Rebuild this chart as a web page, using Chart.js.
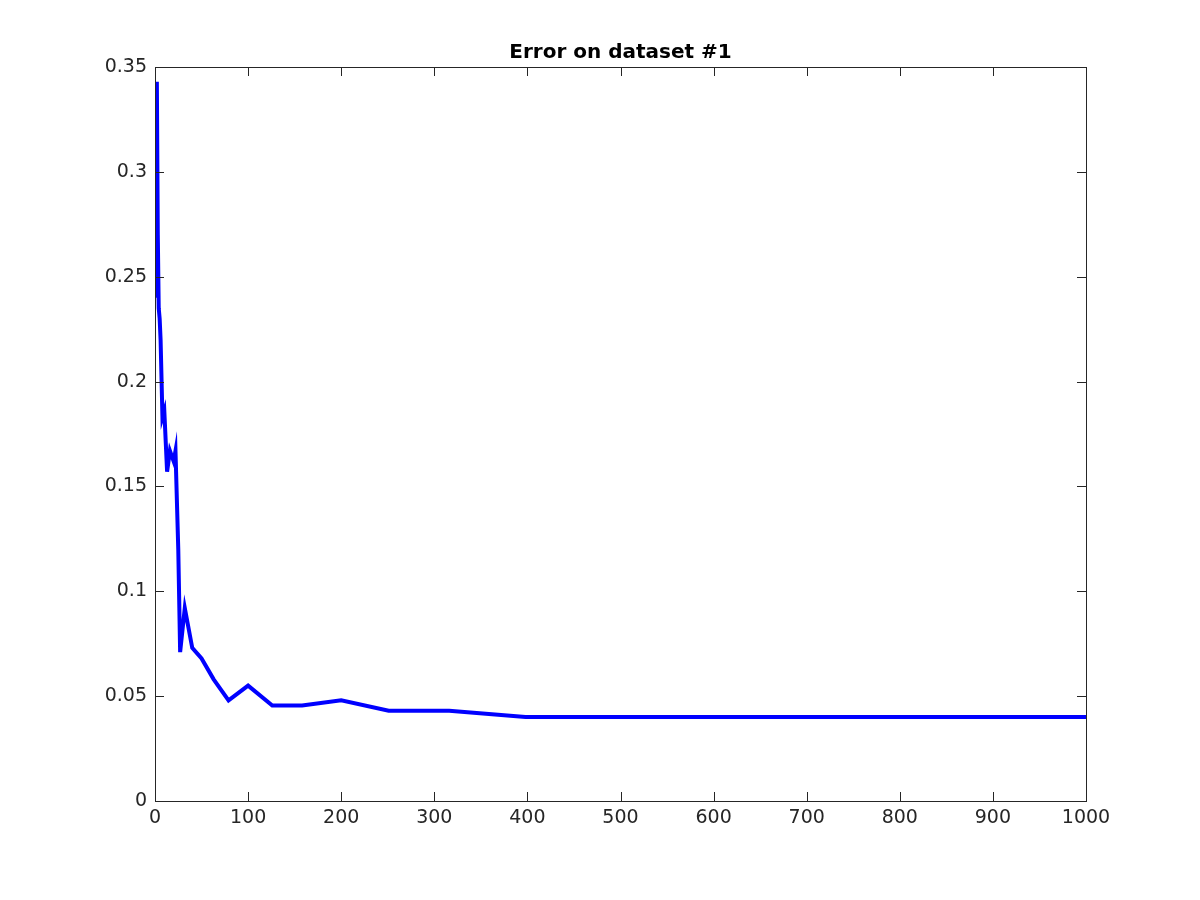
<!DOCTYPE html>
<html>
<head>
<meta charset="utf-8">
<script src="https://cdn.jsdelivr.net/npm/chart.js@4/dist/chart.umd.min.js"></script>
<style>
  body { margin: 0; background: #fff; }
  #wrap { width: 1200px; height: 900px; }
</style>
</head>
<body>
<div id="wrap"><canvas id="chart"></canvas></div>
<script>
const xValues = [1, 2, 3, 4, 5, 6, 8, 10, 13, 16, 20, 22, 25, 27, 32, 40, 50, 63, 79, 100, 126, 158, 200, 251, 316, 398, 501, 631, 794, 1000];
const errValues = [0.24, 0.343, 0.27, 0.235, 0.23, 0.22, 0.183, 0.186, 0.157, 0.167, 0.162, 0.167, 0.12, 0.071, 0.092, 0.073, 0.068, 0.058, 0.048, 0.055, 0.0455, 0.0455, 0.048, 0.043, 0.043, 0.040, 0.040, 0.040, 0.040, 0.040];
const xTicks = [0, 100, 200, 300, 400, 500, 600, 700, 800, 900, 1000];
const yTicks = [0, 0.05, 0.1, 0.15, 0.2, 0.25, 0.3, 0.35];
const titleText = 'Error on dataset #1';

const FONT = "'DejaVu Sans', sans-serif";

// box frame, inward ticks and title, MATLAB style
const framePlugin = {
    id: 'frame',
    afterDraw(chart) {
        const { ctx, chartArea: a, scales } = chart;
        ctx.save();
        ctx.strokeStyle = '#262626';
        ctx.lineWidth = 1;
        ctx.strokeRect(a.left + 0.5, a.top + 0.5, a.right - a.left, a.bottom - a.top);
        ctx.beginPath();
        xTicks.forEach(v => {
            const x = Math.round(scales.x.getPixelForValue(v)) + 0.5;
            ctx.moveTo(x, a.bottom); ctx.lineTo(x, a.bottom - 9);
            ctx.moveTo(x, a.top); ctx.lineTo(x, a.top + 9);
        });
        yTicks.forEach(v => {
            const y = Math.round(scales.y.getPixelForValue(v)) + 0.5;
            ctx.moveTo(a.left, y); ctx.lineTo(a.left + 9, y);
            ctx.moveTo(a.right, y); ctx.lineTo(a.right - 9, y);
        });
        ctx.stroke();
        ctx.fillStyle = '#000';
        ctx.font = 'bold 20px ' + FONT;
        ctx.textAlign = 'center';
        ctx.textBaseline = 'bottom';
        ctx.fillText(titleText, (a.left + a.right) / 2, a.top - 4);
        ctx.restore();
    }
};

new Chart(document.getElementById('chart'), {
    type: 'line',
    data: {
        datasets: [{
            data: xValues.map((x, i) => ({ x, y: errValues[i] })),
            borderColor: '#0000ff',
            borderWidth: 4,
            pointRadius: 0,
            tension: 0,
            fill: false
        }]
    },
    options: {
        responsive: true,
        maintainAspectRatio: false,
        animation: false,
        layout: { padding: { top: 67, right: 114, left: 0, bottom: 0 } },
        plugins: { legend: { display: false }, tooltip: { enabled: false } },
        scales: {
            x: {
                type: 'linear', min: 0, max: 1000,
                afterBuildTicks: s => { s.ticks = xTicks.map(value => ({ value })); },
                afterFit: s => { s.height = 99; },
                grid: { display: false, drawTicks: false },
                border: { display: false },
                ticks: { color: '#262626', font: { family: FONT, size: 19 }, padding: 6, maxRotation: 0,
                         callback: v => String(v) }
            },
            y: {
                min: 0, max: 0.35,
                afterBuildTicks: s => { s.ticks = yTicks.map(value => ({ value })); },
                afterFit: s => { s.width = 155; },
                grid: { display: false, drawTicks: false },
                border: { display: false },
                ticks: { color: '#262626', font: { family: FONT, size: 19 }, padding: 8,
                         callback: v => String(v) }
            }
        }
    },
    plugins: [framePlugin]
});
</script>
</body>
</html>
